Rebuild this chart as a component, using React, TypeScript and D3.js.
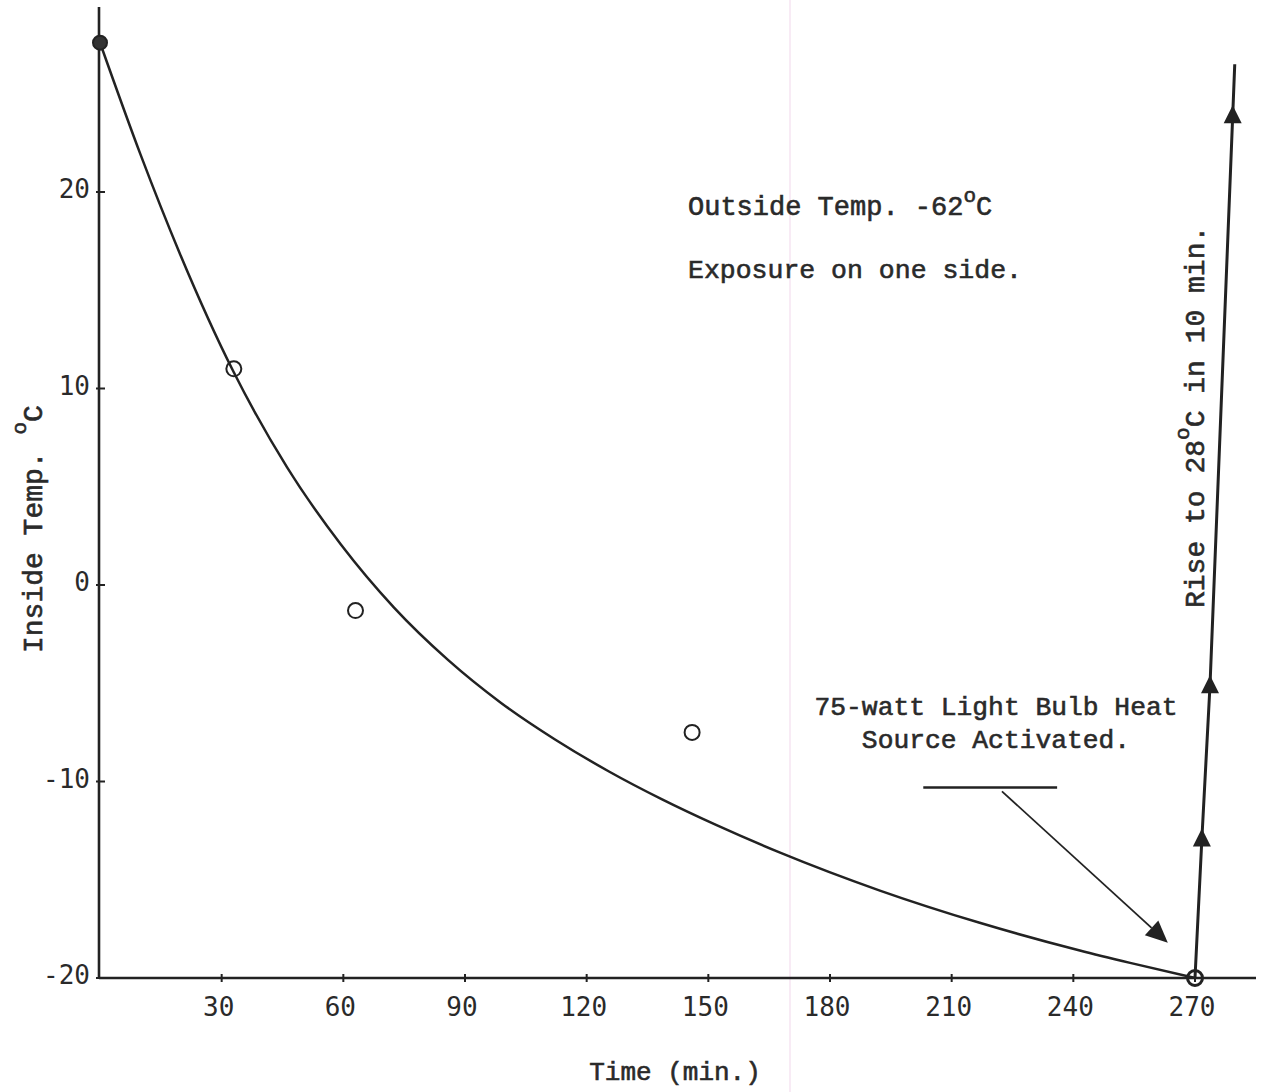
import React from "react";
import * as d3 from "d3";

// ---- data ----
const curveTime = [0, 10, 19.7, 32.8, 46.1, 59.4, 72.5, 85.8, 98.9, 112.2, 125.5, 138.6, 151.9, 167.7, 192.3, 216.9, 241.6, 254, 270];
const curveTemp = [27.6, 21.9, 16.86, 10.9, 6.0, 2.06, -1.15, -3.81, -6.0, -7.86, -9.49, -10.91, -12.21, -13.62, -15.55, -17.19, -18.6, -19.23, -20];

const obsTime = [0, 33, 63, 146, 270];
const obsTemp = [27.6, 11.0, -1.3, -7.5, -20];

const riseTime = [270, 271.7, 273.7, 279.3, 279.8];
const riseTemp = [-20, -12.9, -5.1, 23.9, 26.5];
const riseMarkerIdx = [1, 2, 3];

const xTicks = [30, 60, 90, 120, 150, 180, 210, 240, 270];
const yTicks = [20, 10, 0, -10, -20];

// annotation anchor points (data units)
const annoBar = { t0: 203, t1: 236, T: -10.3 };
const annoArrow = { t0: 222.4, T0: -10.5, t1: 263.3, T1: -18.2 };

const INK = "#222";
const TXT = "#2a2a2a";
const MONO = "'Liberation Mono', 'Courier New', monospace";
const TICKF = "'DejaVu Sans Mono', monospace";

export default function App() {
  const x = d3.scaleLinear().domain([0, 270]).range([100, 1195]);
  const y = d3.scaleLinear().domain([-20, 20]).range([978, 192]);

  const curveData = curveTime.map((t, i) => [t, curveTemp[i]] as [number, number]);
  const riseData = riseTime.map((t, i) => [t, riseTemp[i]] as [number, number]);

  const line = d3
    .line<[number, number]>()
    .x((d) => x(d[0]))
    .y((d) => y(d[1]))
    .curve(d3.curveMonotoneX);
  const lineLin = d3
    .line<[number, number]>()
    .x((d) => x(d[0]))
    .y((d) => y(d[1]));

  const axX0 = x(0) - 1;
  const axY0 = y(-20);

  // arrowhead
  const ax0 = x(annoArrow.t0), ay0 = y(annoArrow.T0);
  const ax1 = x(annoArrow.t1), ay1 = y(annoArrow.T1);
  const ang = Math.atan2(ay1 - ay0, ax1 - ax0);
  const hl = 22, hw = 10;
  const bx = ax1 - hl * Math.cos(ang), by = ay1 - hl * Math.sin(ang);
  const head = `M${ax1},${ay1}L${bx + hw * Math.sin(ang)},${by - hw * Math.cos(ang)}L${bx - hw * Math.sin(ang)},${by + hw * Math.cos(ang)}Z`;

  const textStyle: React.CSSProperties = { fontFamily: MONO, fill: TXT, stroke: TXT, strokeWidth: 0.6 };
  const tickStyle: React.CSSProperties = { fontFamily: TICKF, fontSize: 26, fill: TXT };

  return (
    <svg
      width={1265}
      height={1092}
      style={{ position: "absolute", left: 0, top: 0, background: "#fff" }}
    >
      <rect x={0} y={0} width={1265} height={1092} fill="#fff" />
      {/* scan artifact */}
      <line x1={790} y1={0} x2={790} y2={1092} stroke="#f6e4f2" strokeWidth={1.5} />

      {/* axes */}
      <line x1={axX0} y1={7} x2={axX0} y2={axY0} stroke={INK} strokeWidth={2.6} />
      <line x1={axX0} y1={axY0} x2={1256} y2={axY0} stroke={INK} strokeWidth={2.6} />
      {yTicks.map((v) => (
        <g key={"yt" + v}>
          <line x1={axX0 - 3} x2={axX0 + 6} y1={y(v)} y2={y(v)} stroke={INK} strokeWidth={2} />
          <text x={90} y={y(v) + 6} textAnchor="end" style={tickStyle}>
            {v}
          </text>
        </g>
      ))}
      {xTicks.map((v) => (
        <g key={"xt" + v}>
          <line x1={x(v)} x2={x(v)} y1={axY0 - 4} y2={axY0 + 4} stroke={INK} strokeWidth={2} />
          <text x={x(v) - 3} y={1016} textAnchor="middle" style={tickStyle}>
            {v}
          </text>
        </g>
      ))}

      {/* axis titles */}
      <text x={675} y={1080} textAnchor="middle" style={{ ...textStyle, fontSize: 26 }}>
        Time (min.)
      </text>
      <text transform="translate(42,653) rotate(-90)" style={{ ...textStyle, fontSize: 28 }}>
        Inside Temp.{" "}
        <tspan dy={-16} fontSize={21}>o</tspan>
        <tspan dy={16}>C</tspan>
      </text>

      {/* cooling curve */}
      <path d={line(curveData) || ""} fill="none" stroke={INK} strokeWidth={2.5} />

      {/* observations */}
      {obsTime.map((t, i) => {
        const last = i === obsTime.length - 1;
        const first = i === 0;
        return (
          <circle
            key={"o" + i}
            cx={x(t)}
            cy={y(obsTemp[i])}
            r={first ? 7 : 7.5}
            fill={first ? "#333" : "none"}
            stroke={INK}
            strokeWidth={last ? 3 : 2}
          />
        );
      })}

      {/* rise line */}
      <path d={lineLin(riseData) || ""} fill="none" stroke={INK} strokeWidth={3} />
      {riseMarkerIdx.map((i) => {
        const cx = x(riseTime[i]);
        const cy = y(riseTemp[i]);
        return (
          <path
            key={"m" + i}
            d={`M${cx},${cy - 10}L${cx + 9},${cy + 8}L${cx - 9},${cy + 8}Z`}
            fill={INK}
          />
        );
      })}

      {/* text notes */}
      <text x={688} y={215} style={{ ...textStyle, fontSize: 27 }}>
        Outside Temp. -62
        <tspan dy={-13} fontSize={21}>o</tspan>
        <tspan dy={13}>C</tspan>
      </text>
      <text x={688} y={278} style={{ ...textStyle, fontSize: 26.5 }}>
        Exposure on one side.
      </text>
      <text transform="translate(1204,608) rotate(-90)" style={{ ...textStyle, fontSize: 28 }}>
        Rise to 28
        <tspan dy={-15} fontSize={21}>o</tspan>
        <tspan dy={15}>C in 10 min.</tspan>
      </text>

      <text x={996} y={715} textAnchor="middle" style={{ ...textStyle, fontSize: 26.3 }}>
        75-watt Light Bulb Heat
      </text>
      <text x={996} y={748} textAnchor="middle" style={{ ...textStyle, fontSize: 26.3 }}>
        Source Activated.
      </text>
      <line x1={x(annoBar.t0)} x2={x(annoBar.t1)} y1={y(annoBar.T)} y2={y(annoBar.T)} stroke={INK} strokeWidth={2.5} />
      <line x1={ax0} y1={ay0} x2={bx} y2={by} stroke={INK} strokeWidth={1.8} />
      <path d={head} fill={INK} />
    </svg>
  );
}
